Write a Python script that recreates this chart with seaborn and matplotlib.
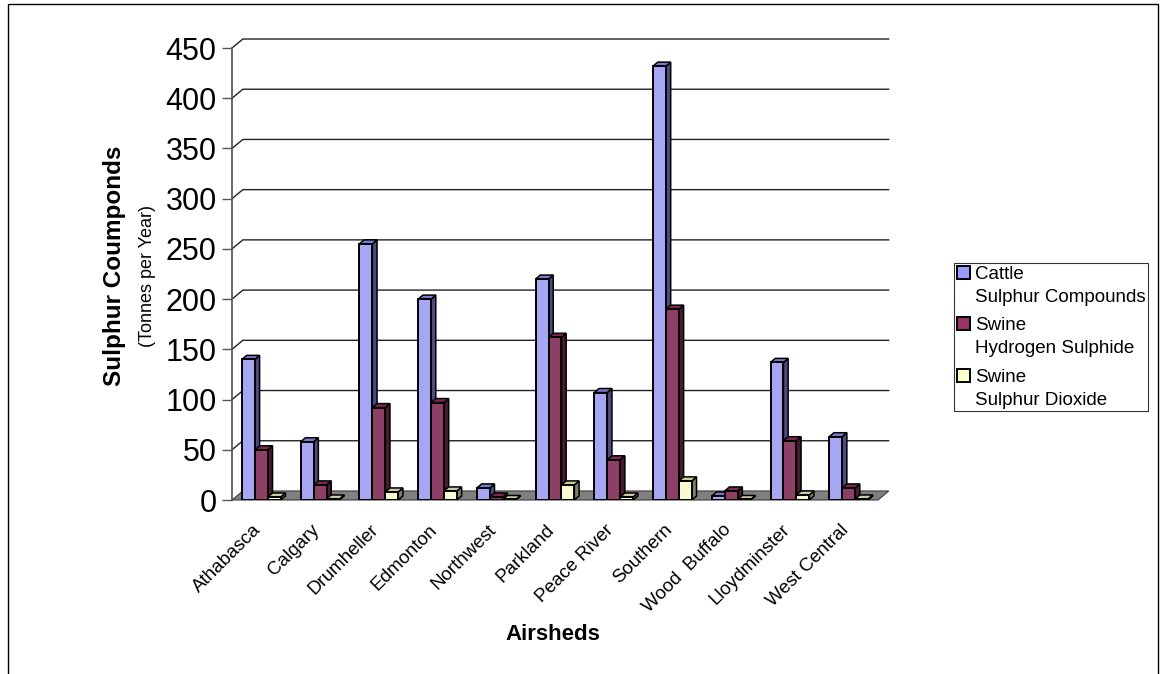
import numpy as np
import pandas as pd
import matplotlib
matplotlib.use("Agg")
import matplotlib.pyplot as plt
import matplotlib.patches as mpatches
import matplotlib.transforms as mtrans
from matplotlib.legend_handler import HandlerPatch
import seaborn as sns

# data (tonnes per year)
airsheds = ["Athabasca", "Calgary", "Drumheller", "Edmonton", "Northwest", "Parkland",
            "Peace River", "Southern", "Wood  Buffalo", "Lloydminster", "West Central"]
series = ["Cattle\nSulphur Compounds", "Swine\nHydrogen Sulphide", "Swine\nSulphur Dioxide"]
cattle_sulphur = [140, 58, 255, 200, 12, 220, 107, 432, 4, 137, 63]
swine_h2s = [50, 15, 92, 97, 3, 162, 40, 190, 9, 59, 12]
swine_so2 = [3, 1, 8, 9, 0.5, 15, 3, 19, 0.5, 5, 1]
yticks = [0, 50, 100, 150, 200, 250, 300, 350, 400, 450]

front_cols = ["#9999FF", "#993366", "#FFFFCC"]
side_cols = ["#4C4C80", "#4C1933", "#80806A"]
top_cols = ["#7A7ACC", "#7A2952", "#CCCCA3"]

df = pd.DataFrame({
    "Airshed": airsheds * 3,
    "series": [series[0]] * 11 + [series[1]] * 11 + [series[2]] * 11,
    "value": cattle_sulphur + swine_h2s + swine_so2,
})

sns.set_theme(style="white")
plt.rcParams["font.family"] = ["Liberation Sans", "DejaVu Sans"]
plt.rcParams["text.color"] = "black"
plt.rcParams["xtick.color"] = "black"
plt.rcParams["ytick.color"] = "black"

fig = plt.figure(figsize=(11.61, 6.74), dpi=100)
ax = fig.add_axes([232 / 1161, 1 - 500 / 674, 646 / 1161, 462 / 674])

# back wall offset (pseudo perspective)
dx, dy = 0.185, 9

# floor
ax.fill([-0.5, 10.5, 10.5 + dx, -0.5 + dx], [0, 0, dy, dy], color="#808080",
        edgecolor="#404040", lw=0.8, zorder=1, clip_on=False)

# back wall grid lines with the little diagonal joins to the axis
for v in yticks[1:]:
    ax.plot([-0.5, -0.5 + dx, 10.5 + dx], [v, v + dy, v + dy], color="#222222",
            lw=1, zorder=0.5, clip_on=False)

sns.barplot(data=df, x="Airshed", y="value", hue="series", order=airsheds,
            hue_order=series, palette=front_cols, width=0.66, edgecolor="black",
            linewidth=1.4, legend=False, ax=ax, zorder=3)

# pseudo 3D faces on the bars drawn by seaborn
bx, by = 0.08, 4
for i, cont in enumerate(ax.containers):
    for p in cont.patches:
        x0, w, h = p.get_x(), p.get_width(), p.get_height()
        ax.fill([x0 + w, x0 + w + bx, x0 + w + bx, x0 + w], [0, by, h + by, h],
                color=side_cols[i], edgecolor="black", lw=1.1, zorder=2.9)
        ax.fill([x0, x0 + bx, x0 + w + bx, x0 + w], [h, h + by, h + by, h],
                color=top_cols[i], edgecolor="black", lw=1.1, zorder=2.9)

ax.set_xlim(-0.5, 10.5)
ax.set_ylim(0, 460)
ax.set_yticks(yticks)
ax.set_yticklabels([str(v) for v in yticks], fontsize=22)
ax.set_xticks(range(len(airsheds)))
ax.set_xticklabels(airsheds, rotation=45, ha="right", rotation_mode="anchor",
                   fontsize=13.5)
ax.set_xticks(np.arange(-0.5, 11, 1), minor=True)
ax.tick_params(axis="x", which="major", length=0, pad=14)
ax.tick_params(axis="x", which="minor", length=9, width=1, color="#555555")
ax.tick_params(axis="y", length=7, width=1, color="#555555", left=True, pad=4)
ax.set_xlabel("")
ax.set_ylabel("")
for s in ["top", "right", "bottom"]:
    ax.spines[s].set_visible(False)
ax.spines["left"].set_color("#555555")
ax.spines["left"].set_bounds(0, 450)

fig.text(115 / 1161, 1 - 266 / 674, "Sulphur Coumponds", rotation=90, fontsize=17.5,
         fontweight="bold", ha="center", va="center")
fig.text(148 / 1161, 1 - 276 / 674, "(Tonnes per Year)", rotation=90, fontsize=13,
         ha="center", va="center")
fig.text(553 / 1161, 1 - 635 / 674, "Airsheds", fontsize=16, fontweight="bold",
         ha="center", va="center")


def top_square(legend, orig_handle, xdescent, ydescent, width, height, fontsize):
    # put the colour square next to the first line of the two-line label
    return mpatches.Rectangle((-xdescent, -ydescent + 0.72 * fontsize), width, height)


handles = [mpatches.Patch(facecolor=c, edgecolor="black", lw=1.4) for c in front_cols]
leg = fig.legend(handles, series, loc="upper left",
                 bbox_to_anchor=(954 / 1161, 1 - 263 / 674), fontsize=13.5,
                 frameon=True, fancybox=False, edgecolor="black", handlelength=0.7,
                 handleheight=0.7, handletextpad=0.25, labelspacing=0.62,
                 borderpad=0.15, borderaxespad=0,
                 handler_map={mpatches.Patch: HandlerPatch(patch_func=top_square)})
leg.get_frame().set_linewidth(0.8)
for t in leg.get_texts():
    t.set_linespacing(1.45)

fig.patches.append(mpatches.Rectangle((8 / 1161, -0.05), 1150 / 1161, 1.05 - 4 / 674,
                                      transform=fig.transFigure, fill=False,
                                      edgecolor="black", lw=1))

# nudge the rotated airshed names left/down, done last so tick updates keep it
shift = mtrans.ScaledTranslation(-9 / 100, -2 / 100, fig.dpi_scale_trans)
for lab in ax.get_xticklabels():
    lab.set_transform(lab.get_transform() + shift)

fig.savefig("out.png", dpi=100)
